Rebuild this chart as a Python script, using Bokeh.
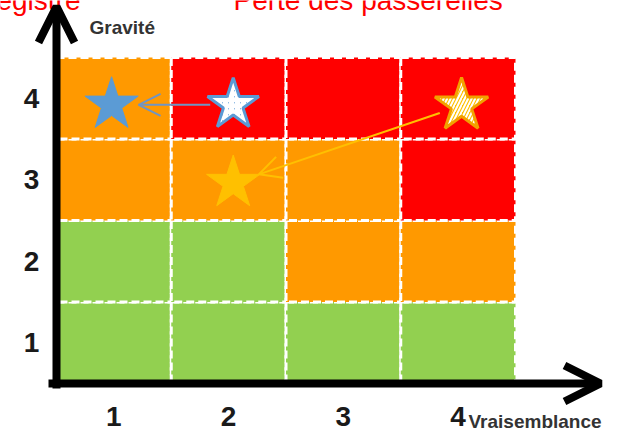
from bokeh.plotting import figure
from bokeh.models import Range1d, Arrow, OpenHead, ColumnDataSource
from bokeh.core.properties import value
from bokeh.embed import file_html
from bokeh.resources import INLINE

# ---------------- data ----------------
likelihood = [1, 2, 3, 4]
gravity = [1, 2, 3, 4]
x_tick_labels = ["1", "2", "3", "4"]
y_tick_labels = ["1", "2", "3", "4"]
x_axis_title = "Vraisemblance"
y_axis_title = "Gravité"
header_left = "Registre"
header_right = "Perte des passerelles"

# risk level of each cell, one list per gravity row (likelihood 1..4)
risk_g1 = ["low", "low", "low", "low"]
risk_g2 = ["low", "low", "medium", "medium"]
risk_g3 = ["medium", "medium", "medium", "high"]
risk_g4 = ["medium", "high", "high", "high"]
level_colors = {"low": "#92D050", "medium": "#FF9900", "high": "#FF0000"}

# risk positions (likelihood, gravity)
star_x = [0.98, 2.04, 2.04, 4.03]
star_y = [3.92, 3.92, 2.96, 3.91]
# moves: from star index -> to star index
move_from = [1, 3]
move_to = [0, 2]

# ---------------- layout ----------------
W, H = 634, 433
X_LEFT_PX, X_RIGHT_PX = 56, 515
Y_TOP_PX, Y_BOT_PX = 57, 383
sx = (X_RIGHT_PX - X_LEFT_PX) / 4.0
sy = (Y_BOT_PX - Y_TOP_PX) / 4.0
x0 = 0.5 - X_LEFT_PX / sx
x1 = x0 + W / sx
y1 = 4.5 + Y_TOP_PX / sy
y0 = y1 - H / sy


def px2x(px):
    return x0 + px / sx


def py2y(py):
    return y1 - py / sy


def x2px(x):
    return (x - x0) * sx


def y2py(y):
    return (y1 - y) * sy


p = figure(width=W, height=H, x_range=Range1d(x0, x1), y_range=Range1d(y0, y1),
           output_backend="svg", toolbar_location=None, min_border=0,
           outline_line_color=None, background_fill_color="white",
           border_fill_color="white")
p.axis.visible = False
p.grid.visible = False

# cells
rows = [risk_g1, risk_g2, risk_g3, risk_g4]
cx, cy, cc = [], [], []
for g, row in zip(gravity, rows):
    for l, lvl in zip(likelihood, row):
        cx.append(l)
        cy.append(g)
        cc.append(level_colors[lvl])
cells = ColumnDataSource(dict(x=cx, y=cy, c=cc))
p.rect("x", "y", width=1, height=1, source=cells, fill_color="c",
       line_color="white", line_width=3, line_dash="8 4")

# axis arrows
p.add_layout(Arrow(x_start=px2x(56), y_start=py2y(388), x_end=px2x(56), y_end=py2y(6),
                   line_width=8, line_color="black",
                   end=OpenHead(size=36, line_width=8, line_color="black")))
p.add_layout(Arrow(x_start=px2x(48), y_start=py2y(383), x_end=px2x(600), y_end=py2y(383),
                   line_width=8, line_color="black",
                   end=OpenHead(size=36, line_width=8, line_color="black")))

# tick labels
p.text(x=likelihood, y=[py2y(416)] * 4, text=x_tick_labels,
       text_font=value("Liberation Sans"), text_font_style="bold",
       text_font_size="28px", text_color="#1a1a1a",
       text_align="center", text_baseline="middle")
p.text(x=[px2x(31)] * 4, y=gravity, text=y_tick_labels,
       text_font=value("Liberation Sans"), text_font_style="bold",
       text_font_size="28px", text_color="#1a1a1a",
       text_align="center", text_baseline="middle")

# axis titles
p.text(x=[px2x(89)], y=[py2y(27)], text=[y_axis_title],
       text_font=value("Liberation Sans"), text_font_style="bold",
       text_font_size="19px", text_color="#333333",
       text_align="left", text_baseline="alphabetic")
p.text(x=[px2x(468)], y=[py2y(421)], text=[x_axis_title],
       text_font=value("Liberation Sans"), text_font_style="bold",
       text_font_size="19px", text_color="#333333",
       text_align="left", text_baseline="alphabetic")

# header texts (cut by the top edge, as in the source)
p.text(x=[px2x(80)], y=[py2y(0)], text=[header_left],
       text_font=value("Liberation Sans"), text_font_size="28px",
       text_color="#FF0000", text_align="right", text_baseline="alphabetic")
p.text(x=[px2x(233)], y=[py2y(0)], text=[header_right],
       text_font=value("Liberation Sans"), text_font_size="28px",
       text_color="#FF0000", text_align="left", text_baseline="alphabetic")

# movement arrows
arrow_colors = ["#6F95C4", "#FFC000"]
gap_start, gap_end = 23, 27
for f, t, col in zip(move_from, move_to, arrow_colors):
    fx, fy = x2px(star_x[f]), y2py(star_y[f])
    tx, ty = x2px(star_x[t]), y2py(star_y[t])
    dx, dy = tx - fx, ty - fy
    d = (dx * dx + dy * dy) ** 0.5
    ux, uy = dx / d, dy / d
    p.add_layout(Arrow(x_start=px2x(fx + ux * gap_start), y_start=py2y(fy + uy * gap_start),
                       x_end=px2x(tx - ux * gap_end), y_end=py2y(ty - uy * gap_end),
                       line_width=2, line_color=col,
                       end=OpenHead(size=22, line_width=2, line_color=col)))

# stars
STAR = 56
p.scatter([star_x[0]], [star_y[0]], marker="star", size=STAR,
          fill_color="#5B9BD5", line_color="#5B9BD5", line_width=1)
p.scatter([star_x[1]], [star_y[1]], marker="star", size=STAR - 2,
          fill_color="#7FB0DF", line_color="#5B9BD5", line_width=3,
          hatch_pattern="/", hatch_color="white", hatch_scale=6, hatch_weight=3)
p.scatter([star_x[2]], [star_y[2]], marker="star", size=STAR,
          fill_color="#FFC000", line_color="#FFC000", line_width=1)
p.scatter([star_x[3]], [star_y[3]], marker="star", size=STAR,
          fill_color="#FFC000", line_color="#F2A100", line_width=3,
          hatch_pattern="/", hatch_color="white", hatch_scale=7, hatch_weight=2)

open("out.html", "w").write(file_html(p, INLINE))
